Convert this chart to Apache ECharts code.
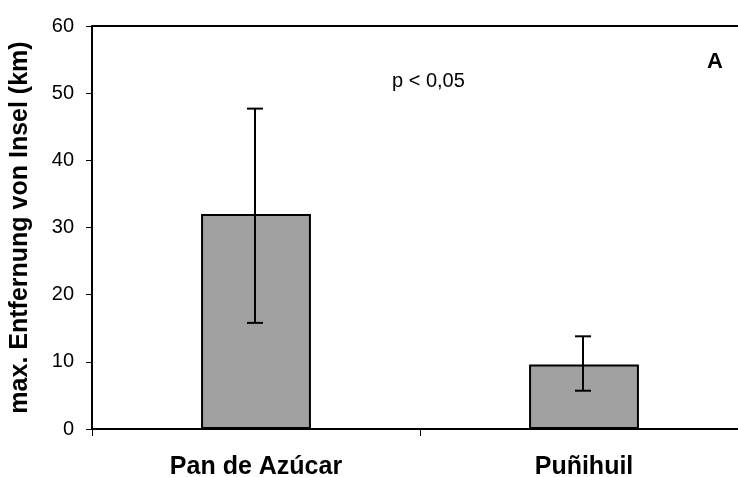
<!DOCTYPE html>
<html>
<head>
<meta charset="utf-8">
<script src="https://cdn.jsdelivr.net/npm/echarts@6/dist/echarts.min.js"></script>
<style>
  html, body { margin: 0; padding: 0; background: #fff; }
  #J-chart { width: 738px; height: 477px; }
</style>
</head>
<body>
<div id="J-chart"></div>
<script>
// data
const categories = ['Pan de Azúcar', 'Puñihuil'];
const means = [32, 9.6];
const errLow = [15.8, 5.7];
const errHigh = [47.7, 13.8];
const yTicks = [0, 10, 20, 30, 40, 50, 60];

const FONT = '"Liberation Sans", Arial, sans-serif';

const chart = echarts.init(document.getElementById('J-chart'));

const option = {
    animation: false,
    textStyle: { fontFamily: FONT },
    grid: {
        left: 92,
        top: 26,
        right: -10,
        bottom: 48,
        outerBoundsMode: 'none',
        containLabel: false
    },
    graphic: [
        {
            type: 'text',
            left: 392,
            top: 71,
            style: { text: 'p < 0,05', font: '20px ' + FONT, fill: '#000' }
        },
        {
            type: 'text',
            left: 707,
            top: 51,
            style: { text: 'A', font: 'bold 22px ' + FONT, fill: '#000' }
        }
    ],
    xAxis: [
        {
            type: 'category',
            data: categories,
            boundaryGap: true,
            axisLine: { lineStyle: { color: '#000', width: 2 } },
            axisTick: { show: true, length: 7, lineStyle: { color: '#000', width: 1 } },
            axisLabel: {
                color: '#000',
                fontSize: 25,
                fontWeight: 'bold',
                fontFamily: FONT,
                margin: 26
            },
            splitLine: { show: false }
        },
        {
            // top frame line
            type: 'category',
            data: categories,
            position: 'top',
            axisLine: { show: true, lineStyle: { color: '#000', width: 2 } },
            axisTick: { show: false },
            axisLabel: { show: false },
            splitLine: { show: false }
        }
    ],
    yAxis: {
        type: 'value',
        min: 0,
        max: yTicks[yTicks.length - 1],
        interval: yTicks[1] - yTicks[0],
        name: 'max. Entfernung von Insel (km)',
        nameLocation: 'middle',
        nameRotate: 90,
        nameGap: 59,
        nameTextStyle: {
            color: '#000',
            fontSize: 25,
            fontWeight: 'bold',
            fontFamily: FONT
        },
        axisLine: { show: true, lineStyle: { color: '#000', width: 2 } },
        axisTick: { show: true, length: 6, lineStyle: { color: '#000', width: 1 } },
        axisLabel: {
            color: '#000',
            fontSize: 20,
            fontFamily: FONT,
            margin: 18
        },
        splitLine: { show: false }
    },
    series: [
        {
            type: 'bar',
            data: means,
            barWidth: '33.5%',
            itemStyle: {
                color: '#a0a0a0',
                borderColor: '#000',
                borderWidth: 2
            },
            z: 2
        },
        {
            type: 'custom',
            data: categories.map((c, i) => [i, errLow[i], errHigh[i]]),
            z: 3,
            renderItem: function(params, api) {
                const lo = api.coord([api.value(0), api.value(1)]);
                const hi = api.coord([api.value(0), api.value(2)]);
                const x = lo[0] - 1;
                const cap = 8;
                const style = { stroke: '#000', lineWidth: 2 };
                return {
                    type: 'group',
                    children: [
                        { type: 'line', shape: { x1: x, y1: lo[1], x2: x, y2: hi[1] }, style: style },
                        { type: 'line', shape: { x1: x - cap, y1: hi[1], x2: x + cap, y2: hi[1] }, style: style },
                        { type: 'line', shape: { x1: x - cap, y1: lo[1], x2: x + cap, y2: lo[1] }, style: style }
                    ]
                };
            }
        }
    ]
};

chart.setOption(option);
</script>
</body>
</html>
